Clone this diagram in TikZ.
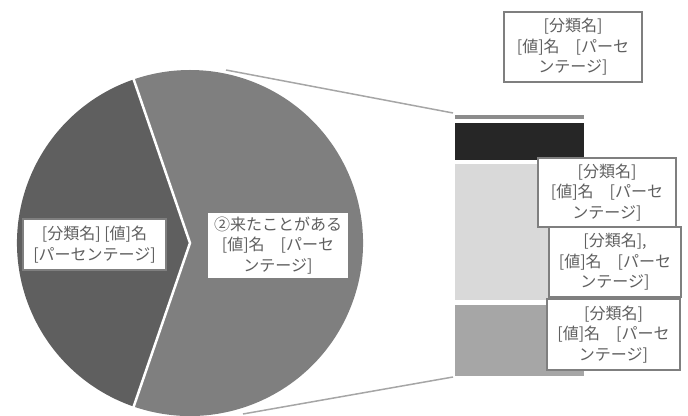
\documentclass[tikz,border=0pt]{standalone}
\usepackage{fontspec}
\setmainfont{Noto Sans CJK JP}
\usetikzlibrary{calc}
\definecolor{slicedark}{HTML}{5F5F5F}
\definecolor{slicemid}{HTML}{7F7F7F}
\definecolor{barthin}{HTML}{8C8C8C}
\definecolor{barblack}{HTML}{262626}
\definecolor{barlight}{HTML}{D9D9D9}
\definecolor{barmed}{HTML}{A6A6A6}
\definecolor{txtgray}{HTML}{5F5F5F}
\definecolor{lblborder}{HTML}{7F7F7F}
\definecolor{serline}{HTML}{A6A6A6}
\tikzset{
  slice/.style={draw=white, line width=2.5pt, line join=miter},
  lbl/.style={draw=lblborder, line width=1.2pt, fill=white, text=txtgray,
    align=center, inner sep=0pt, font=\fontsize{16}{20.5}\selectfont},
  pielbl/.style={lbl, draw=lblborder},
  serieslink/.style={draw=serline, line width=1.5pt}
}
\begin{document}
\begin{tikzpicture}[x=1pt,y=1pt]
\useasboundingbox (0,0) rectangle (688,415);
% pie
\coordinate (C) at (190,172);
\fill[slicemid] (C) -- ++(-109:173) arc[start angle=-109, end angle=109, radius=173] -- cycle;
\fill[slicedark] (C) -- ++(109:173) arc[start angle=109, end angle=251, radius=173] -- cycle;
\coordinate (st) at ($(C)+(109:175)$);
\coordinate (sb) at ($(C)+(251:175)$);
\draw[slice] (st) -- (C) -- (sb);
% bar of other
\fill[barthin] (455,296) rectangle (584,300);
\fill[barblack] (455,255) rectangle (584,292);
\fill[barlight] (455,115) rectangle (584,251);
\fill[barmed] (455,39) rectangle (584,110);
% series lines
\coordinate (pt) at (226,345);
\coordinate (bt) at (453,302);
\coordinate (pb) at (243,1);
\coordinate (bb) at (453,38);
\draw[serieslink] (pt) -- (bt);
\draw[serieslink] (pb) -- (bb);
% labels
\node[pielbl, minimum width=143, minimum height=51] (l1) at (94.5,170.5) {[分類名] [値]名\\{}[パーセンテージ]};
\node[pielbl, minimum width=142, minimum height=67] (l2) at (278,169.5) {②来たことがある\\{}[値]名　[パーセ\\ンテージ]};
\node[lbl, minimum width=138, minimum height=70] (r1) at (573,368) {[分類名]\\{}[値]名　[パーセ\\ンテージ]};
\node[lbl, minimum width=138, minimum height=69] (r2) at (607,222.5) {[分類名]\\{}[値]名　[パーセ\\ンテージ]};
\node[lbl, minimum width=132, minimum height=70] (r3) at (615,153) {[分類名],\\{}[値]名　[パーセ\\ンテージ]};
\node[lbl, minimum width=133, minimum height=71] (r4) at (613.5,80.5) {[分類名]\\{}[値]名　[パーセ\\ンテージ]};
\end{tikzpicture}
\end{document}
